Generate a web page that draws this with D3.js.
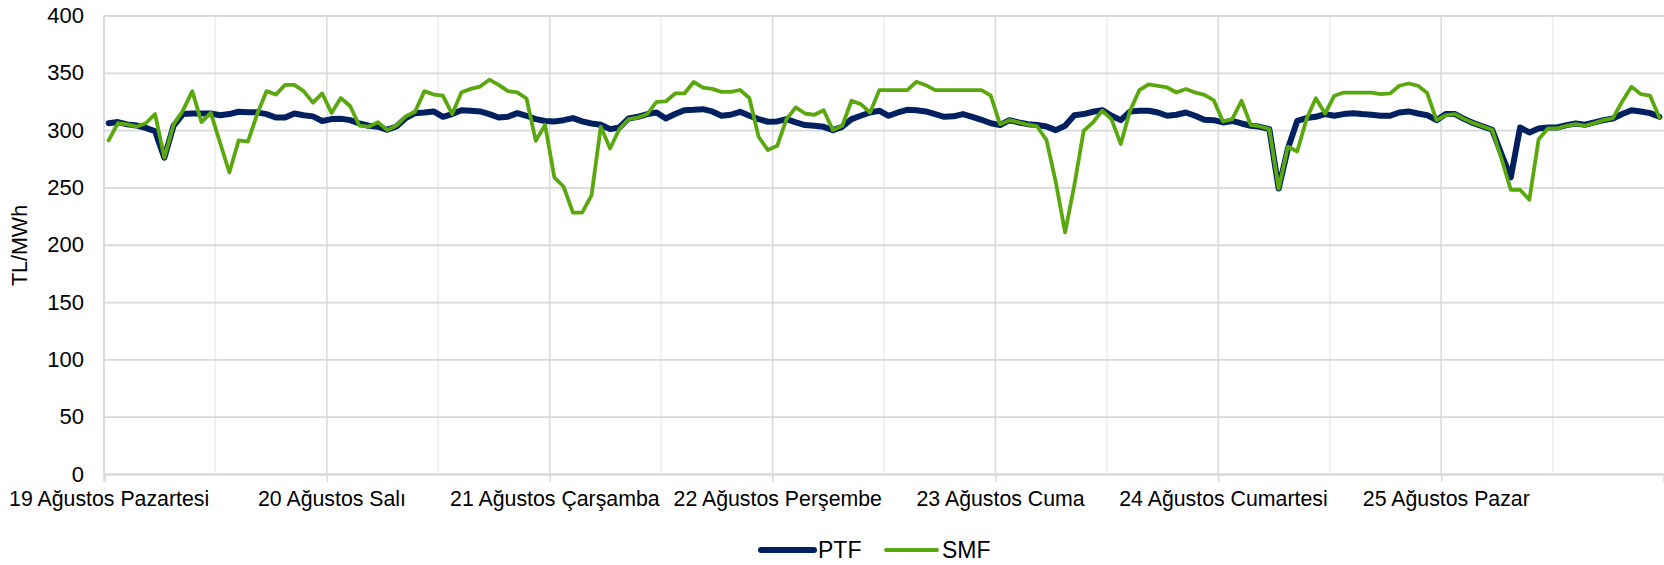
<!DOCTYPE html>
<html><head><meta charset="utf-8">
<script src="https://cdn.jsdelivr.net/npm/d3@7/dist/d3.min.js"></script>
<style>
html,body{margin:0;padding:0;background:#fff;}
svg{display:block;font-family:"Liberation Sans",Arial,sans-serif;}
</style></head>
<body><svg id="chart" width="1664" height="565"></svg>
<script>
const dayLabels = ["19 Ağustos Pazartesi","20 Ağustos Salı","21 Ağustos Çarşamba","22 Ağustos Perşembe","23 Ağustos Cuma","24 Ağustos Cumartesi","25 Ağustos Pazar"];
const yTicks = [0,50,100,150,200,250,300,350,400];
const seriesNames = ["PTF","SMF"];
const ptf = [
306,307,305,304,302,299,276,304,314,314.5,314.5,314.5,313,314,316,315.5,315.5,314,311,311,314.5,313,312,308,
309.6,310,308.7,305.8,303.8,303,300.3,303.2,310.5,314.8,315.4,316.3,311.6,314,317.4,316.9,316.3,314,311,311.6,314.8,312.5,309.6,308,
307.6,308.7,310.5,307.6,305.8,304.7,300.9,302.3,310.2,311.6,314,315.4,310.2,314,317.4,317.7,318.3,316.3,312.5,313.4,316,312.5,309.6,307.3,
307.6,309.6,306.7,304.4,303.8,302.9,300,302.9,309.6,312.5,315.4,316.9,312.5,315.4,317.7,317.4,316.3,314,311.6,312,314,311.6,309,306,
304.4,308.7,306.7,305.2,304.4,303.2,300,303.8,313,314,316,317.4,312.5,308.7,316.3,316.9,316.9,315.4,312.5,313.4,315.4,312.5,309,308.7,
306.7,308,305.8,303.8,302.9,300.9,249,284,308,310.5,311.6,314,312.5,314,314.8,314,313.4,312.5,312.5,315.4,316.3,314.5,313,308.7,
314,314,309.6,306.1,303.2,300.3,279,258.7,302.3,298,301.5,302.3,302.3,304.4,305.8,304.7,306.7,308.7,310.2,314,317.4,316.3,314.8,311.6
];
const smf = [
291,306,305,303,306,314,276,305,317,334,307,315,289,263,291,290,314,334,331,339.5,339.5,334,324,332,
315,328,321,304,303,307,300,304,312,316,334,331,330,314,333,336,338,344,339.5,334,333,327.6,290.7,304.6,
258.7,250.6,228,228,243,303,284,301,309.6,311,314,324.7,325,332,332,342,337,336,333.4,333.4,335,328,294,282.6,
286.3,309.6,319.8,314.5,313.4,317.4,300,303.8,325.6,322.7,315.4,334.9,334.9,334.9,334.9,342.2,339.2,334.9,334.9,334.9,334.9,334.9,334.9,330,
305,308.7,306.7,304.7,303.2,291.3,254.6,210.8,252,299.4,306.7,316.9,309.6,287.8,316.9,334.9,340,338.7,337.2,332.8,335.8,332.8,330.8,326.2,
307.6,309.6,325.6,304.4,303.2,300.9,249,285.5,281.4,309.6,327.9,314.5,330,332.8,332.8,332.8,332.8,331.4,332,338.7,340.7,338.7,332.3,308.7,
313,314,309.6,306.1,303.2,300.3,275,248,248,239.2,292,301.5,301.5,303.8,305.2,303.8,306.1,308.7,310.5,325,337.8,331.4,330,311
];

const svg = d3.select("#chart");
const L = 104, R = 1664, T = 15.5, B = 474;
const n = ptf.length;
const x = d3.scaleLinear().domain([0, n]).range([L, R]);
const y = d3.scaleLinear().domain([0, 400]).range([B, T]);

// minor vertical gridlines (every 12h)
const minorV = d3.range(12, n, 24);
svg.append("g").selectAll("line").data(minorV).join("line")
  .attr("x1", d => x(d)).attr("x2", d => x(d)).attr("y1", T).attr("y2", B)
  .attr("stroke", "#ececec").attr("stroke-width", 1.5);
const majorV = d3.range(24, n, 24);
svg.append("g").selectAll("line").data(majorV).join("line")
  .attr("x1", d => x(d)).attr("x2", d => x(d)).attr("y1", T).attr("y2", B)
  .attr("stroke", "#d9d9d9").attr("stroke-width", 1.5);

// horizontal gridlines + y axis labels
const yAxis = svg.append("g").attr("transform", `translate(${L},0)`)
  .call(d3.axisLeft(y).tickValues(yTicks).tickSize(-(R - L)).tickPadding(20));
yAxis.select(".domain").remove();
yAxis.selectAll(".tick line").attr("stroke", "#d9d9d9").attr("stroke-width", 1.8);
yAxis.selectAll(".tick text").attr("font-size", 22).attr("fill", "#000")
  .attr("font-family", "Liberation Sans, Arial, sans-serif");

// left axis line
svg.append("line").attr("x1", L).attr("x2", L).attr("y1", T).attr("y2", B)
  .attr("stroke", "#d9d9d9").attr("stroke-width", 1.8);

// x axis
const xAxis = svg.append("g").attr("transform", `translate(0,${B})`)
  .call(d3.axisBottom(x).tickValues(d3.range(0, n + 1, 24)).tickSize(8).tickPadding(8.5)
    .tickFormat((d, i) => dayLabels[i] || ""));
xAxis.select(".domain").attr("stroke", "#d9d9d9").attr("stroke-width", 2.2);
xAxis.selectAll(".tick line").attr("stroke", "#d9d9d9").attr("stroke-width", 1.5);
xAxis.selectAll(".tick text").attr("font-size", 21.3).attr("fill", "#000")
  .attr("x", x(0.5) - x(0))
  .attr("font-family", "Liberation Sans, Arial, sans-serif");

// y title
svg.append("text").attr("transform", `translate(27,245.5) rotate(-90)`)
  .attr("text-anchor", "middle").attr("font-size", 21.5).attr("fill", "#000")
  .text("TL/MWh");

const line = d3.line().x((d, i) => x(i + 0.5)).y(d => y(d));
svg.append("path").datum(ptf).attr("d", line).attr("fill", "none")
  .attr("stroke", "#002060").attr("stroke-width", 6).attr("stroke-linejoin", "round").attr("stroke-linecap", "round");
svg.append("path").datum(smf).attr("d", line).attr("fill", "none")
  .attr("stroke", "#5ba80e").attr("stroke-width", 3.8).attr("stroke-linejoin", "round").attr("stroke-linecap", "round");

// legend
const legend = [
  {name: seriesNames[0], color: "#002060", w: 6, x1: 761, x2: 814, tx: 818},
  {name: seriesNames[1], color: "#5ba80e", w: 4, x1: 886, x2: 937, tx: 942}
];
const lg = svg.append("g");
legend.forEach(d => {
  lg.append("line").attr("x1", d.x1).attr("x2", d.x2).attr("y1", 550).attr("y2", 550)
    .attr("stroke", d.color).attr("stroke-width", d.w).attr("stroke-linecap", "round");
  lg.append("text").attr("x", d.tx).attr("y", 558).attr("font-size", 23).attr("fill", "#000").text(d.name);
});
</script></body></html>
